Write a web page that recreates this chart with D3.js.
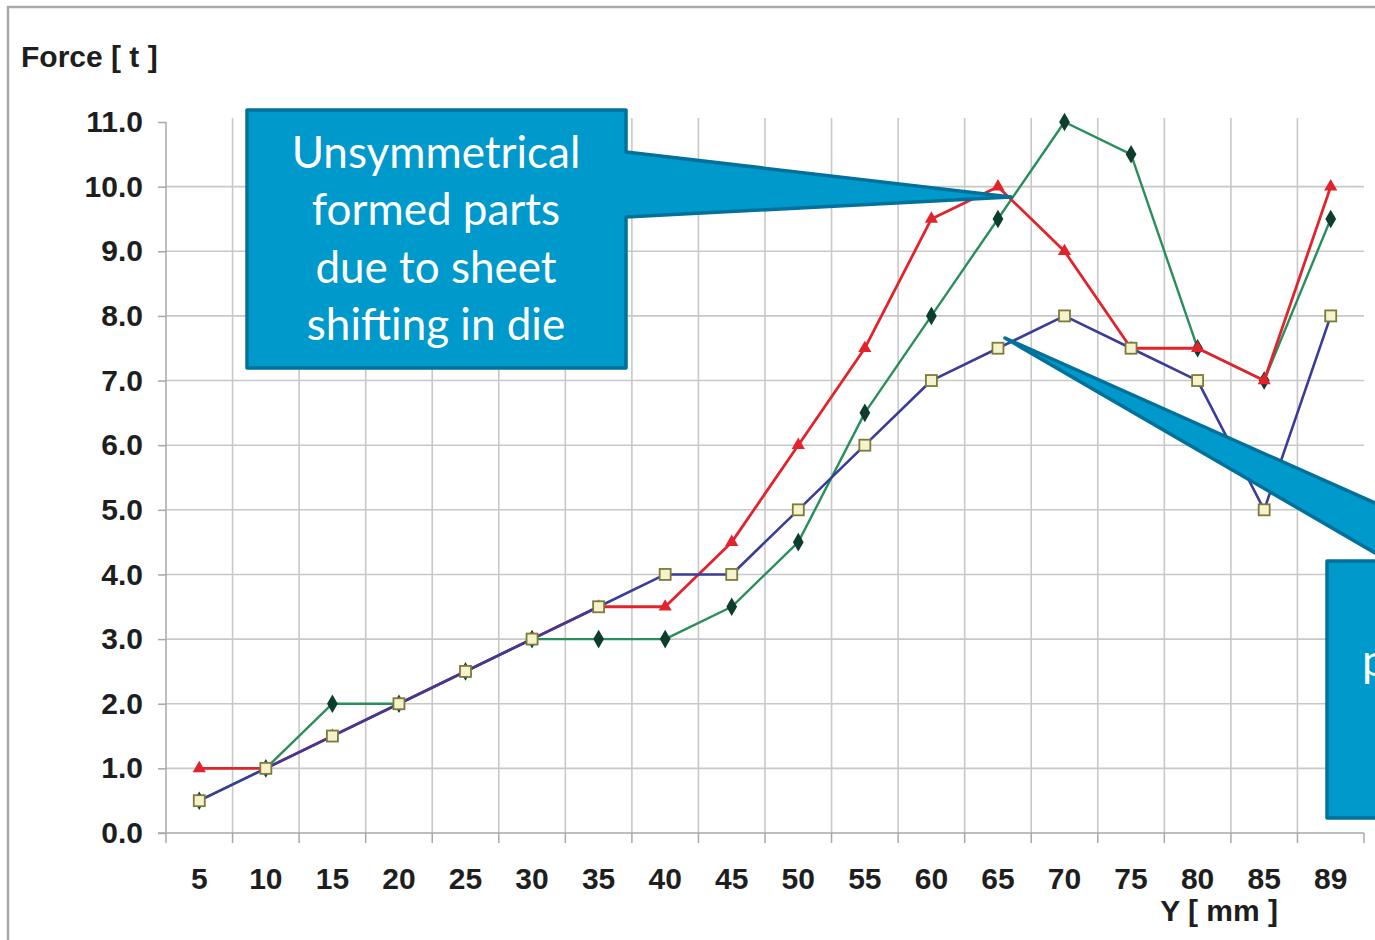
<!DOCTYPE html>
<html>
<head>
<meta charset="utf-8">
<script src="https://cdn.jsdelivr.net/npm/d3@7/dist/d3.min.js"></script>
<style>
  html, body { margin: 0; padding: 0; background: #fff; }
  #chart { width: 1375px; height: 940px; }
  .axis text { font-family: "Liberation Sans", Arial, sans-serif; font-weight: bold; font-size: 30px; fill: #1e1e1e; }
  .axis line, .axis path { stroke: #a8a8a8; stroke-width: 1.5; }
  .callout text { font-family: Lato, "Open Sans", sans-serif; font-size: 44px; fill: #fff; }
</style>
</head>
<body>
<div id="chart"></div>
<script>
// categories on the x axis (Y [mm])
const positions = ["5", "10", "15", "20", "25", "30", "35", "40", "45", "50", "55", "60", "65", "70", "75", "80", "85", "89"];
const yTicks = [0, 1, 2, 3, 4, 5, 6, 7, 8, 9, 10, 11];
const gridValues = [1, 2, 3, 4, 5, 6, 7, 8, 9, 10];

// force in tonnes
const redValues   = [1.0, 1.0, 1.5, 2.0, 2.5, 3.0, 3.5, 3.5, 4.5, 6.0, 7.5, 9.5, 10.0, 9.0, 7.5, 7.5, 7.0, 10.0];
const greenValues = [0.5, 1.0, 2.0, 2.0, 2.5, 3.0, 3.0, 3.0, 3.5, 4.5, 6.5, 8.0, 9.5, 11.0, 10.5, 7.5, 7.0, 9.5];
const blueValues  = [0.5, 1.0, 1.5, 2.0, 2.5, 3.0, 3.5, 4.0, 4.0, 5.0, 6.0, 7.0, 7.5, 8.0, 7.5, 7.0, 5.0, 8.0];

const calloutLeftLines = ["Unsymmetrical", "formed parts", "due to sheet", "shifting in die"];
// second callout is cut off by the picture edge, only the start of one line shows
const calloutRightVisible = "p";

const W = 1375, H = 940;
const svg = d3.select("#chart").append("svg").attr("width", W).attr("height", H);

// image frame (only left and top edges are inside the picture)
svg.append("rect")
  .attr("x", 8).attr("y", 7).attr("width", 1400).attr("height", 960)
  .attr("fill", "#fff").attr("stroke", "#a9a9a9").attr("stroke-width", 2.5);

const x = d3.scaleBand().domain(positions).range([166, 1364]).padding(0);
const y = d3.scaleLinear().domain([0, 11]).range([833, 122]);
const cx = d => x(d) + x.bandwidth() / 2;

const bounds = positions.map(p => x(p)).concat([x.range()[1]]);

// grid
svg.append("g").selectAll("line").data(gridValues).enter().append("line")
  .attr("x1", 166).attr("x2", 1364)
  .attr("y1", d => y(d)).attr("y2", d => y(d))
  .attr("stroke", "#c8c8c8").attr("stroke-width", 1.6);

svg.append("g").selectAll("line").data(bounds.slice(1, -1)).enter().append("line")
  .attr("x1", d => d).attr("x2", d => d)
  .attr("y1", 118).attr("y2", 833)
  .attr("stroke", "#c8c8c8").attr("stroke-width", 1.6);

// y axis
const yAxis = svg.append("g").attr("class", "axis")
  .attr("transform", "translate(166,0)")
  .call(d3.axisLeft(y).tickValues(yTicks).tickFormat(d3.format(".1f")).tickSize(8).tickPadding(15).tickSizeOuter(0));
yAxis.select(".domain").attr("d", `M0,${y(11)}V${y(0)}`);

// x axis: labels centred, ticks on band edges
const xAxis = svg.append("g").attr("class", "axis")
  .attr("transform", "translate(0,833)")
  .call(d3.axisBottom(x).tickSize(0).tickPadding(35));
xAxis.select(".domain").attr("d", "M158,0H1364");
xAxis.selectAll(".edge").data(bounds).enter().append("line")
  .attr("class", "edge")
  .attr("x1", d => d).attr("x2", d => d)
  .attr("y1", 0).attr("y2", 10);

svg.append("text")
  .attr("x", 21).attr("y", 67)
  .attr("font-family", "Liberation Sans, Arial, sans-serif").attr("font-weight", "bold")
  .attr("font-size", 30).attr("fill", "#1e1e1e")
  .text("Force [ t ]");

svg.append("text")
  .attr("x", 1278).attr("y", 921).attr("text-anchor", "end")
  .attr("font-family", "Liberation Sans, Arial, sans-serif").attr("font-weight", "bold")
  .attr("font-size", 30).attr("fill", "#1e1e1e")
  .text("Y [ mm ]");

// series
const line = d3.line().x(d => cx(d.p)).y(d => y(d.v));
const toPts = vals => positions.map((p, i) => ({ p, v: vals[i] }));

const series = [
  { vals: greenValues, color: "#2a8e5c", width: 2.4, marker: "diamond" },
  { vals: redValues, color: "#e3232c", width: 2.8, marker: "triangle" },
  { vals: blueValues, color: "#3a3c98", width: 2.6, marker: "square" }
];

series.forEach(s => {
  const pts = toPts(s.vals);
  svg.append("path").datum(pts)
    .attr("d", line).attr("fill", "none")
    .attr("stroke", s.color).attr("stroke-width", s.width)
    .attr("stroke-linejoin", "round");

  const g = svg.append("g");
  if (s.marker === "diamond") {
    g.selectAll("path").data(pts).enter().append("path")
      .attr("d", d3.symbol(d3.symbolDiamond, 100)())
      .attr("transform", d => `translate(${cx(d.p)},${y(d.v)})`)
      .attr("fill", "#0d3d2d");
  } else if (s.marker === "triangle") {
    g.selectAll("path").data(pts).enter().append("path")
      .attr("d", d3.symbol(d3.symbolTriangle, 75)())
      .attr("transform", d => `translate(${cx(d.p)},${y(d.v)})`)
      .attr("fill", "#e3232c");
  } else {
    g.selectAll("rect").data(pts).enter().append("rect")
      .attr("x", d => cx(d.p) - 5.5).attr("y", d => y(d.v) - 5.5)
      .attr("width", 11).attr("height", 11)
      .attr("fill", "#f6f3cc").attr("stroke", "#7b7b3c").attr("stroke-width", 1.8);
  }
});

// callouts
const callouts = svg.append("g").attr("class", "callout");

callouts.append("path")
  .attr("d", "M247,110H626V152L1011,197L626,217V368H247Z")
  .attr("fill", "#0099cb").attr("stroke", "#00719a").attr("stroke-width", 3.5)
  .attr("stroke-linejoin", "round");

callouts.selectAll("text.left").data(calloutLeftLines).enter().append("text")
  .attr("class", "left")
  .attr("x", 436).attr("y", (d, i) => 168 + i * 57.3)
  .attr("text-anchor", "middle")
  .text(d => d);

callouts.append("path")
  .attr("d", "M1327,561H1389L1005,338L1505,561H1710V818H1327Z")
  .attr("fill", "#0099cb").attr("stroke", "#00719a").attr("stroke-width", 3.5)
  .attr("stroke-linejoin", "round");

callouts.append("text")
  .attr("x", 1362).attr("y", 676)
  .text(calloutRightVisible);
</script>
</body>
</html>
